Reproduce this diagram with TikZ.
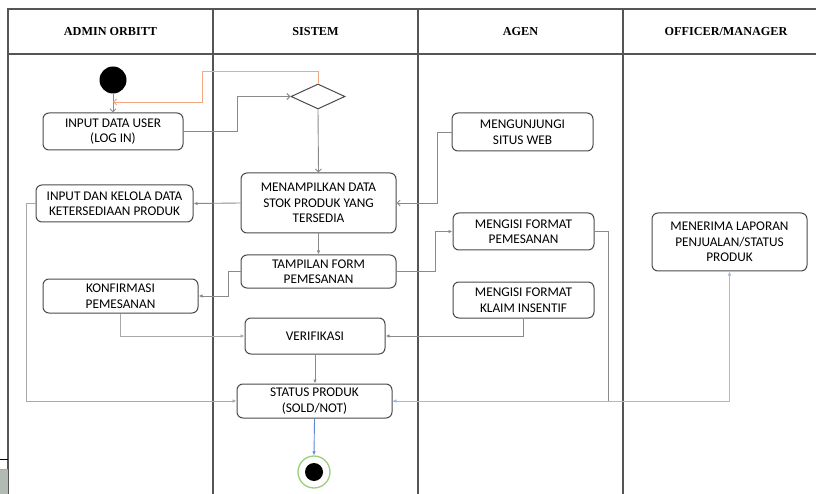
\documentclass[tikz,border=0pt]{standalone}
\usepackage{fontspec}
\setmainfont{Liberation Serif}
\newfontfamily\boxfont{Carlito}
\usetikzlibrary{arrows.meta,shapes.geometric}
\definecolor{lanec}{HTML}{555555}
\definecolor{boxc}{HTML}{4A4A4A}
\definecolor{linec}{HTML}{8A8A8A}
\definecolor{lightc}{HTML}{A8A8A8}
\definecolor{orangec}{HTML}{F5A77F}
\definecolor{bluec}{HTML}{5B8BD6}
\definecolor{lbluec}{HTML}{A3B8DC}
\definecolor{greenc}{HTML}{9ACD7C}
\definecolor{artc}{HTML}{B3B9B3}
\tikzset{
  lane/.style={draw=lanec, line width=1.1pt},
  hdr/.style={font=\bfseries\fontsize{12.2}{13}\selectfont, inner sep=0pt},
  act/.style={draw=boxc, line width=1pt, rounded corners=6pt, align=center,
    font=\boxfont\fontsize{13.3}{15.5}\selectfont, inner sep=0pt},
  flow/.style={draw=linec, line width=0.9pt, -{Latex[length=4pt,width=3.5pt]}},
  openflow/.style={draw=linec, line width=0.9pt, -{Straight Barb[length=3pt,width=6pt]}},
}
\begin{document}
\begin{tikzpicture}[x=1pt,y=-1pt]
\useasboundingbox (0,0) rectangle (816,494);
% swimlane frame
\draw[lane] (8,494) -- (8,9) -- (816,9);
\draw[lane] (8,54) -- (816,54);
\draw[lane] (213,9) -- (213,494);
\draw[lane] (418,9) -- (418,494);
\draw[lane] (623,9) -- (623,494);
% corner artefact
\draw[black, line width=1pt] (0,459) -- (8,459);
\fill[artc] (0,469) rectangle (8,494);
\draw[lightc, line width=0.6pt] (0,469) -- (8,469);
% headers
\node[hdr] (h1) at (110.5,32) {ADMIN ORBITT};
\node[hdr] (h2) at (315.5,32) {SISTEM};
\node[hdr] (h3) at (520.5,32) {AGEN};
\node[hdr] (h4) at (726,32) {OFFICER/MANAGER};
% nodes
\node[circle, fill=black, minimum size=27pt, inner sep=0pt] (start) at (113,80) {};
\node[diamond, draw=boxc, line width=1pt, minimum width=54pt, minimum height=25pt, inner sep=0pt] (dec) at (318,96.5) {};
\node[act, minimum width=140pt, minimum height=37pt] (in1) at (113,131.5) {INPUT DATA USER\\(LOG IN)};
\node[act, minimum width=141pt, minimum height=38pt] (web) at (522.5,132) {MENGUNJUNGI\\SITUS WEB};
\node[act, minimum width=155pt, minimum height=60pt] (show) at (318.5,203) {MENAMPILKAN DATA\\STOK PRODUK YANG\\TERSEDIA};
\node[act, minimum width=157pt, minimum height=37pt] (kelola) at (114.5,203.5) {INPUT DAN KELOLA DATA\\KETERSEDIAAN PRODUK};
\node[act, minimum width=155pt, minimum height=33pt] (form) at (318.5,271.5) {TAMPILAN FORM\\PEMESANAN};
\node[act, minimum width=141pt, minimum height=37pt] (isi) at (523.5,231.5) {MENGISI FORMAT\\PEMESANAN};
\node[act, minimum width=155pt, minimum height=58pt] (terima) at (729.5,242) {MENERIMA LAPORAN\\PENJUALAN/STATUS\\PRODUK};
\node[act, minimum width=155pt, minimum height=34pt] (konf) at (120.5,296) {KONFIRMASI\\PEMESANAN};
\node[act, minimum width=141pt, minimum height=36pt] (klaim) at (523.5,300) {MENGISI FORMAT\\KLAIM INSENTIF};
\node[act, minimum width=140pt, minimum height=36pt] (verif) at (315,336) {VERIFIKASI};
\node[act, minimum width=155pt, minimum height=34pt] (status) at (314.5,401) {STATUS PRODUK\\(SOLD/NOT)};
\node[circle, draw=greenc, line width=1.3pt, minimum size=32pt, inner sep=0pt] (end) at (314,472) {};
\node[circle, fill=black, minimum size=18pt, inner sep=0pt] (endin) at (end.center) {};
% connectors
\coordinate (c1) at (113,102);
\draw[openflow] (start.south) -- (in1.north);
\draw[openflow, draw=orangec] (dec.north) -- (318,71) -- (202,71) -- (202,102) -- (c1);
\draw[openflow] (in1.east) -- (237,131.5) |- (dec.west);
\draw[openflow] (dec.south) -- (show.north);
\draw[openflow] (web.west) -- (437,132) |- (show.east);
\draw[flow] (show.west) -- (kelola.east);
\draw[flow] (show.south) -- (form.north);
\draw[flow] (form.west) -- (228,271.5) |- (konf.east);
\draw[flow] (form.east) -- (435,271.5) |- (isi.west);
\draw[flow, draw=lightc] (konf.south) |- (verif.west);
\draw[flow] (klaim.south) |- (verif.east);
\draw[flow, draw=lightc] (kelola.west) -- (26,203.5) |- (status.west);
\draw[flow] (verif.south) -- (verif.south |- status.north);
\draw[line width=0.9pt, draw=linec] (isi.east) -- (608,231.5) -- (608,401);
\draw[flow, draw=lbluec] (608,401) -- (status.east);
\draw[flow, draw=lbluec] (status.east) -| (terima.south);
\draw[flow, draw=bluec] (status.south) -- (end.north);
\end{tikzpicture}
\end{document}
